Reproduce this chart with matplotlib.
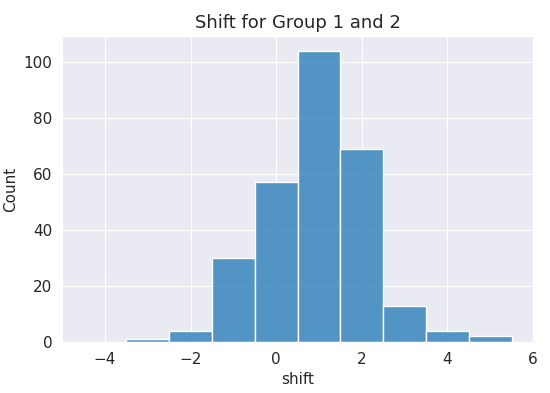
import matplotlib
matplotlib.use("Agg")
import matplotlib.pyplot as plt
import seaborn as sns

# histogram bins (width 1) and counts
bin_edges = [-3.5, -2.5, -1.5, -0.5, 0.5, 1.5, 2.5, 3.5, 4.5, 5.5]
bin_centers = [-3, -2, -1, 0, 1, 2, 3, 4, 5]
counts = [1, 4, 30, 57, 104, 69, 13, 4, 2]

sns.set_style("darkgrid")
plt.rcParams["font.family"] = ["DejaVu Sans"]

fig, ax = plt.subplots(figsize=(5.5, 3.93), dpi=100)
fig.subplots_adjust(left=0.113, right=0.969, top=0.908, bottom=0.130)

sns.histplot(x=bin_centers, weights=counts, bins=bin_edges, color="#1f77b4", ax=ax)

ax.set_xlim(-5, 6)
ax.set_xlabel("shift", fontsize=11)
ax.set_ylabel("Count", fontsize=11)
ax.set_title("Shift for Group 1 and 2", fontsize=13)
ax.tick_params(labelsize=11)

fig.savefig("out.png", dpi=100)
